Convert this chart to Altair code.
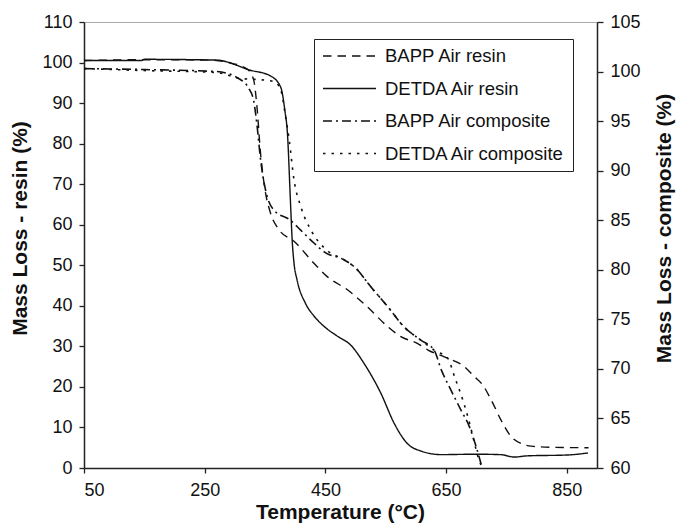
import altair as alt
import pandas as pd

series_names = ["BAPP Air resin", "DETDA Air resin", "BAPP Air composite", "DETDA Air composite"]

# BAPP Air resin (left axis, %)
bapp_resin_t = [50, 150, 260, 290, 321, 331, 337, 342, 349, 359, 373, 398, 431, 453, 487, 519, 553, 575,
                603, 620, 647, 680, 697, 711, 725, 741, 758, 775, 791, 830, 886]
bapp_resin_v = [100.5, 100.7, 100.6, 100.0, 98.3, 95.8, 88.4, 78.5, 69.5, 62.9, 58.8, 55.9, 50.5, 47.2, 43.9,
                39.8, 34.9, 32.4, 30.7, 29.1, 27.4, 25.0, 22.5, 20.4, 16.7, 11.8, 7.7, 6.0, 5.4, 5.1, 5.0]

# DETDA Air resin (left axis, %)
detda_resin_t = [50, 145, 150, 271, 300, 321, 359, 376, 383, 387, 392, 395, 398, 403, 417, 431, 448, 470,
                 492, 514, 542, 564, 586, 608, 642, 697, 740, 763, 785, 850, 885]
detda_resin_v = [100.5, 100.5, 100.8, 100.6, 99.5, 98.3, 96.7, 93.9, 88.0, 82.7, 66.0, 56.0, 50.5, 46.4, 40.6,
                 37.5, 34.9, 32.5, 30.3, 25.8, 18.4, 11.0, 6.0, 4.2, 3.3, 3.4, 3.3, 2.7, 3.0, 3.2, 3.7]

# BAPP Air composite (right axis, %)
bapp_comp_t = [50, 150, 270, 309, 323, 331, 337, 342, 351, 365, 392, 409, 431, 448, 481, 498, 525, 553,
               581, 608, 630, 642, 658, 675, 689, 700, 708]
bapp_comp_v = [100.3, 100.2, 100.0, 99.2, 98.3, 97.1, 94.4, 91.4, 88.0, 86.0, 85.0, 84.0, 82.7, 81.8, 81.0,
               80.3, 78.3, 76.3, 74.2, 72.9, 71.9, 69.9, 67.85, 65.8, 64.1, 62.1, 60.4]

# DETDA Air composite (right axis, %)
detda_comp_t = [50, 150, 270, 309, 337, 365, 376, 384, 390, 398, 409, 426, 448, 481, 498, 525, 553, 581,
                608, 630, 653, 664, 678, 689, 697, 703, 710]
detda_comp_v = [100.3, 100.1, 99.9, 99.3, 99.2, 99.0, 98.15, 95.45, 93.1, 89.06, 86.4, 84.0, 82.2, 81.0, 80.3,
                78.3, 76.3, 74.2, 72.9, 71.9, 71.05, 69.2, 66.8, 64.5, 62.5, 61.1, 60.0]

x_ticks = [50, 250, 450, 650, 850]
left_ticks = list(range(0, 111, 10))
right_ticks = list(range(60, 106, 5))

rows = []
for name, ts, vs in [
    (series_names[0], bapp_resin_t, bapp_resin_v),
    (series_names[1], detda_resin_t, detda_resin_v),
    (series_names[2], bapp_comp_t, bapp_comp_v),
    (series_names[3], detda_comp_t, detda_comp_v),
]:
    for t, v in zip(ts, vs):
        rows.append({"T": t, "v": v, "s": name})
df = pd.DataFrame(rows)

FONT = "Liberation Sans"

x_enc = alt.X(
    "T:Q",
    scale=alt.Scale(domain=[50, 900], nice=False, zero=False),
    axis=alt.Axis(values=x_ticks, title="Temperature (°C)", titleX=256, titleY=44,
                  titleBaseline="middle", labelPadding=8, tickSize=5),
)

dash_enc = alt.StrokeDash(
    "s:N",
    scale=alt.Scale(domain=series_names, range=[[8.5, 6], [1, 0], [9, 4, 2, 4], [2.5, 6]]),
    legend=alt.Legend(
        title=None, orient="none", legendX=230, legendY=17,
        strokeColor="#222", fillColor="white", padding=8, clipHeight=18,
        labelFont=FONT, labelFontSize=18.5, labelColor="#111", labelLimit=300,
        labelOffset=8, rowPadding=13.5, symbolSize=2809, symbolStrokeWidth=1.5,
        symbolStrokeColor="#111", symbolType="stroke",
    ),
)

base = alt.Chart(df)

resin = base.transform_filter(
    alt.FieldOneOfPredicate(field="s", oneOf=series_names[:2])
).mark_line(color="#111", strokeWidth=1.4, interpolate="monotone").encode(
    x=x_enc,
    y=alt.Y("v:Q", scale=alt.Scale(domain=[0, 110], nice=False, zero=False),
            axis=alt.Axis(values=left_ticks, title="Mass Loss - resin (%)", orient="left",
                          titleAngle=270, titleX=-64, titleY=206, titleBaseline="middle",
                          titleAlign="center", labelPadding=7, tickSize=5)),
    strokeDash=dash_enc,
)

comp = base.transform_filter(
    alt.FieldOneOfPredicate(field="s", oneOf=series_names[2:])
).mark_line(color="#111", strokeWidth=1.6, interpolate="monotone").encode(
    x=x_enc,
    y=alt.Y("v:Q", scale=alt.Scale(domain=[60, 105], nice=False, zero=False),
            axis=alt.Axis(values=right_ticks, title="Mass Loss - composite (%)", orient="right",
                          titleAngle=270, titleX=67, titleY=206, titleBaseline="middle",
                          titleAlign="center", labelPadding=7, tickSize=6)),
    strokeDash=dash_enc,
)

chart = alt.layer(resin, comp).resolve_scale(y="independent", strokeDash="shared").properties(
    width=513, height=446,
    autosize=alt.AutoSizeParams(type="none"),
    padding={"left": 84, "top": 22, "right": 79, "bottom": 58},
    background="white",
).configure_view(
    stroke="#aaa", strokeWidth=1,
).configure_axis(
    grid=False, domainColor="#222", domainWidth=1.5, tickColor="#222", tickWidth=1.3,
    labelFont=FONT, labelFontSize=18, labelColor="#111",
    titleFont=FONT, titleFontSize=21, titleFontWeight="bold", titleColor="#111",
)

chart.save("out.html", embed_options={"renderer": "svg", "actions": False})
